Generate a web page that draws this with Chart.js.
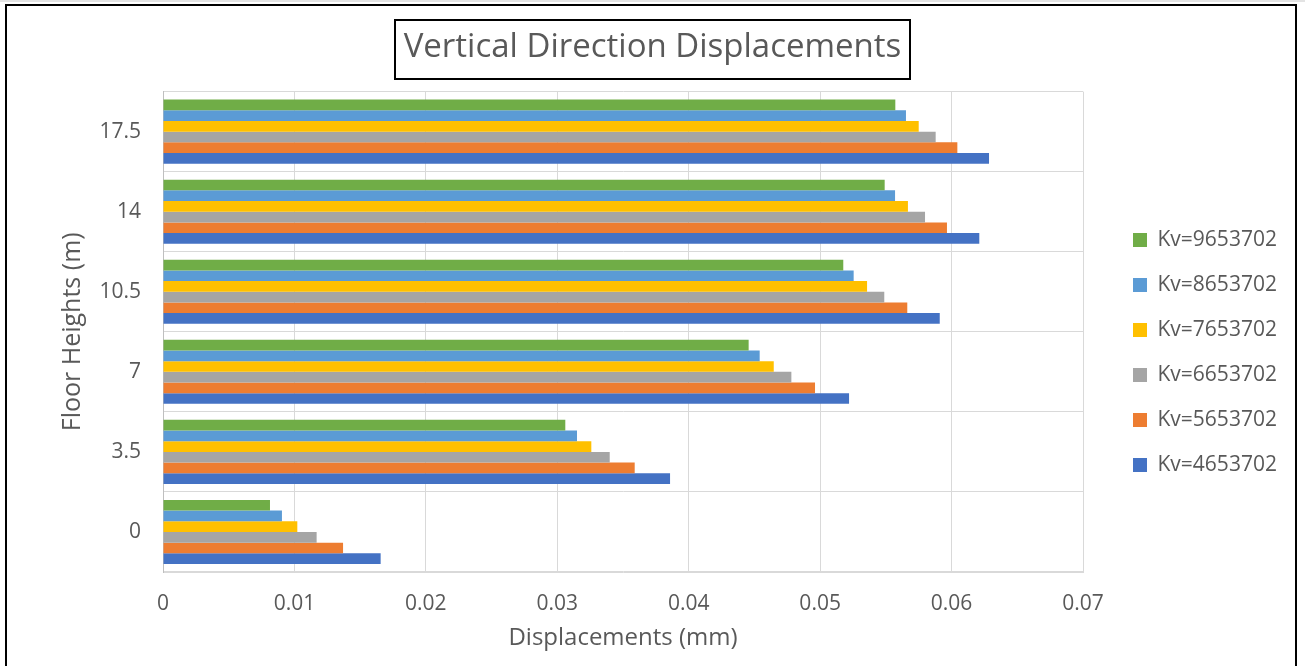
<!DOCTYPE html>
<html>
<head>
<meta charset="utf-8">
<script src="https://cdn.jsdelivr.net/npm/chart.js@4/dist/chart.umd.min.js"></script>
<style>
  html, body { margin: 0; padding: 0; background: #ffffff; }
  #wrap { width: 1305px; height: 666px; }
</style>
</head>
<body>
<div id="wrap"><canvas id="chart" width="1305" height="666"></canvas></div>
<script>
// Floor heights (m), bottom to top
const floorHeights = ['0', '3.5', '7', '10.5', '14', '17.5'];

// Vertical displacement (mm) at each floor, one array per vertical stiffness Kv
const kv4653702 = [0.01656, 0.03858, 0.05220, 0.05910, 0.06211, 0.06285];
const kv5653702 = [0.01370, 0.03589, 0.04961, 0.05663, 0.05965, 0.06044];
const kv6653702 = [0.01169, 0.03399, 0.04781, 0.05488, 0.05798, 0.05879];
const kv7653702 = [0.01022, 0.03259, 0.04647, 0.05357, 0.05668, 0.05750];
const kv8653702 = [0.00905, 0.03150, 0.04540, 0.05255, 0.05570, 0.05653];
const kv9653702 = [0.00814, 0.03061, 0.04456, 0.05176, 0.05491, 0.05572];

// Displacement axis ticks
const displacementTicks = [0, 0.01, 0.02, 0.03, 0.04, 0.05, 0.06, 0.07];

const seriesNames = ['Kv=9653702', 'Kv=8653702', 'Kv=7653702', 'Kv=6653702', 'Kv=5653702', 'Kv=4653702'];
const seriesValues = [kv9653702, kv8653702, kv7653702, kv6653702, kv5653702, kv4653702];
const seriesColors = ['#70AD47', '#5B9BD5', '#FFC000', '#A5A5A5', '#ED7D31', '#4472C4'];

const FONT = '"Open Sans", "Noto Sans", sans-serif';
const TEXT = '#595959';
const GRID = '#D9D9D9';

// Category axis runs top to bottom, so highest floor first
const labelsTopDown = floorHeights.slice().reverse();
const datasets = seriesNames.map((name, i) => ({
  label: name,
  data: seriesValues[i].slice().reverse(),
  backgroundColor: seriesColors[i],
  borderWidth: 0,
  barPercentage: 1.0,
  categoryPercentage: 0.8
}));

// Page frame and the boxed chart title
const framePlugin = {
  id: 'frame',
  beforeDraw(chart) {
    const ctx = chart.ctx;
    ctx.save();
    ctx.fillStyle = '#ffffff';
    ctx.fillRect(0, 0, chart.width, chart.height);
    ctx.fillStyle = '#E3E3E3';
    ctx.fillRect(0, 0, chart.width, 2);
    ctx.restore();
  },
  afterDraw(chart) {
    const ctx = chart.ctx;
    ctx.save();
    ctx.strokeStyle = '#000000';
    ctx.lineWidth = 2;
    ctx.beginPath();
    ctx.moveTo(6, chart.height + 5);
    ctx.lineTo(6, 5);
    ctx.lineTo(1296, 5);
    ctx.lineTo(1296, chart.height + 5);
    ctx.stroke();

    const tb = chart.titleBlock;
    if (tb) {
      const f = Chart.helpers.toFont(tb.options.font);
      const pad = Chart.helpers.toPadding(tb.options.padding);
      ctx.font = f.string;
      const w = ctx.measureText(tb.options.text).width;
      const cx = (tb.left + tb.right) / 2;
      const cy = tb.top + pad.top + f.lineHeight / 2;
      ctx.lineWidth = 2;
      ctx.strokeRect(Math.round(cx - w / 2 - 8.5), Math.round(cy - 28), Math.round(w + 17), 59);
    }
    ctx.restore();
  }
};

// Fixed legend column width
const LEGEND_W = 196;
const legendWidthPlugin = {
  id: 'legendWidth',
  beforeLayout(chart) {
    const lg = chart.legend;
    if (lg && !lg.__fixedWidth) {
      const fit = lg.fit;
      lg.fit = function () { fit.call(this); this.width = LEGEND_W; };
      lg.__fixedWidth = true;
    }
  }
};

new Chart(document.getElementById('chart'), {
  type: 'bar',
  data: { labels: labelsTopDown, datasets },
  plugins: [legendWidthPlugin, framePlugin],
  options: {
    indexAxis: 'y',
    responsive: false,
    animation: false,
    devicePixelRatio: 1,
    layout: { padding: { left: 0, right: 0, top: 0, bottom: 0 } },
    scales: {
      x: {
        type: 'linear',
        min: 0,
        max: 0.07,
        afterBuildTicks: (s) => { s.ticks = displacementTicks.map(v => ({ value: v })); },
        afterFit: (s) => { s.height = 94; },
        ticks: {
          color: TEXT,
          font: { family: FONT, size: 21 },
          padding: 19,
          maxRotation: 0,
          callback: (v) => (v === 0 ? '0' : Number(v).toFixed(2))
        },
        grid: { color: GRID, lineWidth: 1, drawTicks: false },
        border: { color: GRID, width: 1 },
        title: {
          display: true,
          text: 'Displacements (mm)',
          color: TEXT,
          font: { family: FONT, size: 24 },
          padding: { top: 0, bottom: 13 }
        }
      },
      y: {
        type: 'category',
        afterFit: (s) => { s.width = 163; },
        ticks: {
          color: TEXT,
          font: { family: FONT, size: 21 },
          padding: 22
        },
        grid: { color: GRID, lineWidth: 1, drawTicks: false, offset: true },
        border: { color: '#BFBFBF', width: 1 },
        title: {
          display: true,
          text: 'Floor Heights (m)',
          color: TEXT,
          font: { family: FONT, size: 25 },
          padding: { top: 58, bottom: 0 }
        }
      },
      spacer: {
        type: 'linear',
        position: 'right',
        display: true,
        afterFit: (s) => { s.width = 26; },
        ticks: { display: false },
        grid: { display: false, drawTicks: false },
        border: { display: false }
      }
    },
    plugins: {
      title: {
        display: true,
        text: 'Vertical Direction Displacements',
        color: TEXT,
        font: { family: FONT, size: 33, weight: 'normal' },
        padding: { top: 28, bottom: 24 }
      },
      legend: {
        display: true,
        position: 'right',
        align: 'center',
        title: { display: true, text: '', font: { size: 10 }, padding: { top: 27, bottom: 0 } },
        labels: {
          boxWidth: 14,
          boxHeight: 14,
          padding: 24,
          color: TEXT,
          font: { family: FONT, size: 21 }
        }
      },
      tooltip: { enabled: false }
    }
  }
});
</script>
</body>
</html>
